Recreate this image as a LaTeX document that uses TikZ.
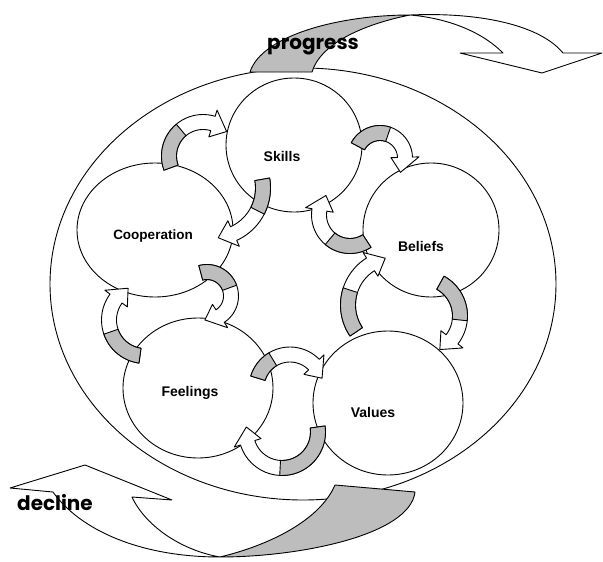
\documentclass[tikz,border=0pt]{standalone}
\usepackage{fontspec}
\setmainfont{Liberation Sans}
\newfontfamily\heavyfont{Poppins}
\usetikzlibrary{calc,shapes.geometric}
\definecolor{tailgray}{gray}{0.74}

% one curved block arrow: centre, radius, tail angle, end of grey part, tip angle
\newcommand{\bentarrow}[5]{%
  \pgfmathsetmacro{\bndout}{#2+7.5}%
  \pgfmathsetmacro{\bndin}{#2-7.5}%
  \pgfmathsetmacro{\headbase}{#5-16/(#2)*57.3}%
  \pgfmathsetmacro{\barbout}{#2+14}%
  \pgfmathsetmacro{\barbin}{#2-14}%
  \begin{scope}[shift={(#1)}]
    \filldraw[band] plot[domain=#3:\headbase] ({\bndout*cos(\x)},{\bndout*sin(\x)})
      -- ({\barbout*cos(\headbase)},{\barbout*sin(\headbase)})
      -- ({#2*cos(#5)},{#2*sin(#5)})
      -- ({\barbin*cos(\headbase)},{\barbin*sin(\headbase)})
      -- plot[domain=\headbase:#3] ({\bndin*cos(\x)},{\bndin*sin(\x)}) -- cycle;
    \filldraw[band,fill=tailgray] plot[domain=#3:#4] ({\bndout*cos(\x)},{\bndout*sin(\x)})
      -- plot[domain=#4:#3] ({\bndin*cos(\x)},{\bndin*sin(\x)}) -- cycle;
  \end{scope}}

\tikzset{
  ring/.style={draw,ellipse,line width=0.9pt,inner sep=0pt},
  band/.style={draw,fill=white,line width=0.9pt,line join=round},
  lbl/.style={font=\fontsize{14}{16}\selectfont\bfseries},
  bigword/.style={font=\heavyfont\fontsize{20}{22}\selectfont\bfseries}
}

\begin{document}
\begin{tikzpicture}[x=1pt,y=-1pt]
\useasboundingbox (0,0) rectangle (603,562);

% outer cycle
\node[ring,minimum width=506pt,minimum height=432pt] (whole) at (303,284) {};

% the five stages
\node[ring,minimum width=136pt,minimum height=134pt] (skills) at (294,145) {};
\node[ring,minimum width=156pt,minimum height=134pt] (coop) at (155,230) {};
\node[ring,minimum width=136pt,minimum height=134pt] (beliefs) at (431,230) {};
\node[ring,minimum width=150pt,minimum height=140pt] (feelings) at (198,388) {};
\node[ring,minimum width=150pt,minimum height=144pt] (values) at (388,403) {};

\node[lbl] at ([shift={(-12,11)}]skills.center) {Skills};
\node[lbl,font=\fontsize{13.5}{16}\selectfont\bfseries] at ([shift={(-2,6)}]coop.center) {Cooperation};
\node[lbl] at ([shift={(-10,16)}]beliefs.center) {Beliefs};
\node[lbl] at ([shift={(-8,5)}]feelings.center) {Feelings};
\node[lbl] at ([shift={(-15,9)}]values.center) {Values};

% centres of the small arrows
\coordinate (csA) at (203,156);
\coordinate (csB) at (213,188);
\coordinate (sbA) at (380,158);
\coordinate (sbB) at (350,215);
\coordinate (cfA) at (207,296);
\coordinate (cfB) at (145,320);
\coordinate (fvA) at (290,388);
\coordinate (fvB) at (282,432);
\coordinate (vbA) at (422,316);
\coordinate (vbB) at (396,305);

\bentarrow{csA}{34}{160}{230}{314}
\bentarrow{csB}{50}{350}{387}{444}
\bentarrow{sbA}{25}{208}{289}{395}
\bentarrow{sbB}{31}{57}{130}{219}
\bentarrow{cfA}{24}{255}{340}{455}
\bentarrow{cfB}{36}{98}{161}{242}
\bentarrow{fvA}{33.5}{197}{239}{343}
\bentarrow{fvB}{36}{352}{453}{548}
\bentarrow{vbA}{38}{299}{366}{422}
\bentarrow{vbB}{48}{146}{198}{257}

% progress
\filldraw[band] (410,15) .. controls (480,12) and (540,25) .. (563,53) -- (602,53)
  -- (542,73) -- (460,53) -- (503,53) .. controls (480,30) and (445,18) .. (410,15) -- cycle;
\filldraw[band,fill=tailgray] (250,72) .. controls (262,35) and (340,15) .. (410,15)
  .. controls (360,25) and (320,45) .. (312,72) -- cycle;
\node[bigword] (progress) at (313,47) {progress};

% decline
\filldraw[band] (220,557) .. controls (140,557) and (80,530) .. (53,492) -- (10,488)
  -- (85,465) -- (172,500) -- (132,497) .. controls (145,525) and (180,550) .. (220,557) -- cycle;
\filldraw[band,fill=tailgray] (335,485) -- (415,492) .. controls (410,535) and (300,557) .. (220,557)
  .. controls (270,545) and (320,520) .. (335,485) -- cycle;
\node[bigword] (decline) at (55,503) {decline};
\end{tikzpicture}
\end{document}
